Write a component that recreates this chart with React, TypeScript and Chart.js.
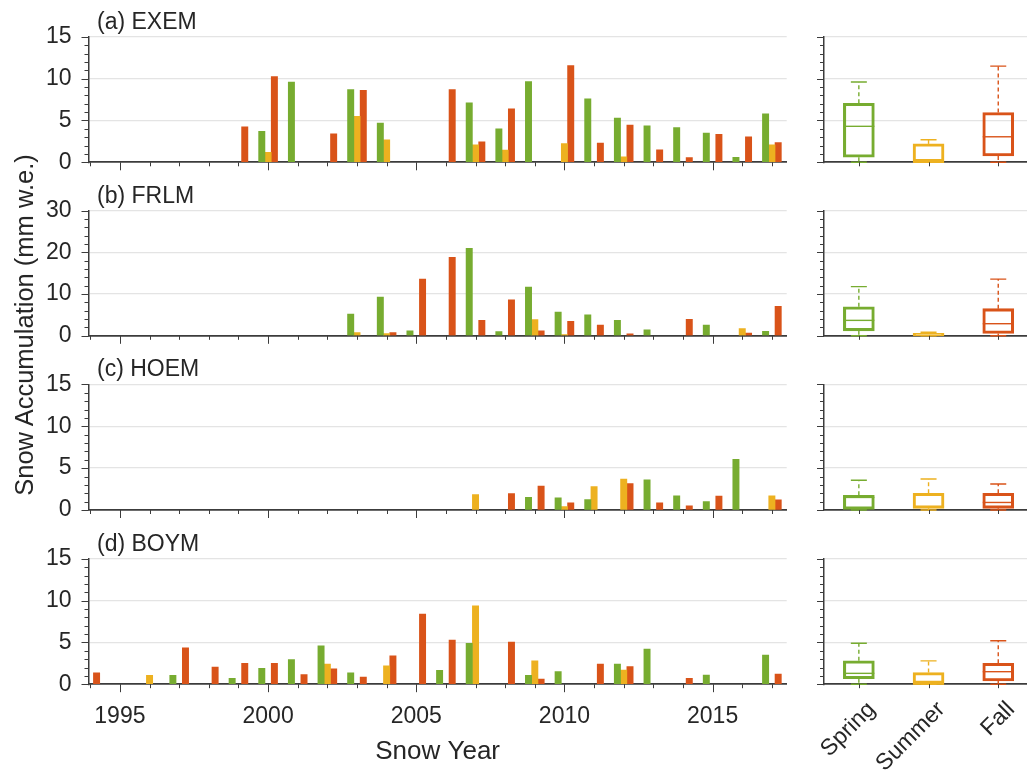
import React, { useEffect, useRef } from 'react';
import { Chart, registerables } from 'chart.js';

Chart.register(...registerables);

const FONT = '"Liberation Sans", Arial, Helvetica, sans-serif';
Chart.defaults.font.family = FONT;

// ---------------- data ----------------
const YEARS = [1994, 1995, 1996, 1997, 1998, 1999, 2000, 2001, 2002, 2003, 2004, 2005,
  2006, 2007, 2008, 2009, 2010, 2011, 2012, 2013, 2014, 2015, 2016, 2017];

const SEASONS = ['Spring', 'Summer', 'Fall'];
const SEASON_COLORS = ['#77AC30', '#EDB120', '#D95319'];
const X_TICK_LABELS = [1995, 2000, 2005, 2010, 2015];

// (a) EXEM
const EXEM_SPRING = [null, null, null, null, null, null, 3.7, 9.6, null, 8.7, 4.7, null, null, 7.1, 4.0, 9.65, null, 7.6, 5.3, 4.35, 4.15, 3.5, 0.6, 5.8];
const EXEM_SUMMER = [null, null, null, null, null, null, 1.2, null, null, 5.5, 2.7, null, null, 2.1, 1.45, null, 2.25, null, 0.65, null, null, null, null, 2.1];
const EXEM_FALL = [null, null, null, null, null, 4.25, 10.25, null, 3.4, 8.6, null, null, 8.7, 2.45, 6.4, null, 11.55, 2.3, 4.45, 1.5, 0.55, 3.35, 3.05, 2.35];
// (b) FRLM
const FRLM_SPRING = [null, null, null, null, null, null, null, null, null, 5.2, 9.3, 1.2, null, 21.0, 1.0, 11.7, 5.7, 5.0, 3.7, 1.45, null, 2.6, null, 1.05];
const FRLM_SUMMER = [null, null, null, null, null, null, null, null, null, 0.8, 0.55, null, null, null, null, 3.9, 0.3, null, null, null, null, null, 1.75, null];
const FRLM_FALL = [null, null, null, null, null, null, null, null, null, null, 0.75, 13.6, 18.8, 3.7, 8.65, 1.2, 3.45, 2.6, 0.5, null, 3.95, null, 0.65, 7.05];
// (c) HOEM
const HOEM_SPRING = [null, null, null, null, null, null, null, null, null, null, null, null, null, null, null, 1.5, 1.45, 1.25, null, 3.6, 1.7, 1.0, 6.05, null];
const HOEM_SUMMER = [null, null, null, null, null, null, null, null, null, null, null, null, null, 1.85, null, null, 0.4, 2.8, 3.7, null, null, null, null, 1.7];
const HOEM_FALL = [null, null, null, null, null, null, null, null, null, null, null, null, null, null, 1.95, 2.85, 0.85, null, 3.15, 0.85, 0.5, 1.65, null, 1.2];
// (d) BOYM
const BOYM_SPRING = [null, null, null, 1.05, null, 0.7, 1.9, 2.95, 4.6, 1.35, null, null, 1.65, 4.9, null, 1.05, 1.5, null, 2.4, 4.2, null, 1.1, null, 3.5];
const BOYM_SUMMER = [null, null, 1.05, null, null, null, null, null, 2.4, null, 2.2, null, null, 9.4, null, 2.8, null, null, 1.7, null, null, null, null, null];
const BOYM_FALL = [1.35, null, null, 4.35, 2.05, 2.5, 2.5, 1.15, 1.85, 0.85, 3.4, 8.4, 5.3, null, 5.05, 0.6, null, 2.4, 2.1, null, 0.7, null, null, 1.2];

// box statistics per season: [min, q1, median, q3, max]
const EXEM_BOX = [[0, 0.6, 4.3, 7.05, 9.6], [0, 0, 0, 2.2, 2.7], [0, 0.75, 3.05, 5.95, 11.5]];
const FRLM_BOX = [[0, 1.2, 3.7, 6.95, 11.8], [0, 0, 0.1, 0.6, 0.85], [0, 0.55, 2.9, 6.5, 13.6]];
const HOEM_BOX = [[0, 0, 1.5, 1.75, 3.55], [0, 0.2, 0.4, 2.0, 3.7], [0, 0.2, 0.9, 2.0, 3.1]];
const BOYM_BOX = [[0, 0.65, 1.3, 2.8, 4.9], [0, 0, 0, 1.4, 2.8], [0, 0.4, 1.5, 2.5, 5.2]];

// ---------------- styling / layout ----------------
const TEXT = '#262626';
const AXIS = '#3c3c3c';
const GRID = '#e4e4e4';
const TICK_FONT = 23;

const LEFT_CANVAS_W = 800;
const LEFT_AREA_L = 88.5;
const LEFT_AREA_R = 786.7;
const BOX_CANVAS_L = 794;
const BOX_CANVAS_W = 260;
const BOX_AREA_L = 824;
const BOX_AREA_R = 1033.1;

const ROWS = [
  { top: 36.8, bottom: 162.3 },
  { top: 210.7, bottom: 335.8 },
  { top: 384.4, bottom: 510.0 },
  { top: 559.0, bottom: 684.2 },
];

const PANELS = [
  { title: '(a) EXEM', spring: EXEM_SPRING, summer: EXEM_SUMMER, fall: EXEM_FALL, box: EXEM_BOX, yMax: 15, yStep: 1, yMajor: 5 },
  { title: '(b) FRLM', spring: FRLM_SPRING, summer: FRLM_SUMMER, fall: FRLM_FALL, box: FRLM_BOX, yMax: 30, yStep: 2, yMajor: 10 },
  { title: '(c) HOEM', spring: HOEM_SPRING, summer: HOEM_SUMMER, fall: HOEM_FALL, box: HOEM_BOX, yMax: 15, yStep: 1, yMajor: 5 },
  { title: '(d) BOYM', spring: BOYM_SPRING, summer: BOYM_SUMMER, fall: BOYM_FALL, box: BOYM_BOX, yMax: 15, yStep: 1, yMajor: 5 },
];

function rowGeometry(i: number) {
  const r = ROWS[i];
  const last = i === ROWS.length - 1;
  const canvasTop = Math.round(r.top) - 37;
  const canvasH = last ? 776 - canvasTop : 200;
  const xAxisH = last ? canvasTop + canvasH - r.bottom : 16;
  const padTop = r.top - canvasTop;
  const padBottom = canvasTop + canvasH - r.bottom - xAxisH;
  return { canvasTop, canvasH, xAxisH, padTop, padBottom, last };
}

// ---------------- plugins ----------------
const tickMarks = {
  id: 'tickMarks',
  afterDraw(chart: any, _args: any, opts: any) {
    const { ctx, chartArea: area } = chart;
    const xs = chart.scales.x;
    const ys = chart.scales.y;
    ctx.save();
    ctx.strokeStyle = AXIS;
    ctx.lineWidth = 1;
    ctx.beginPath();
    xs.ticks.forEach((t: any, i: number) => {
      const px = xs.getPixelForTick(i);
      if (px < area.left - 0.5 || px > area.right + 0.5) return;
      const major = opts.xMajor ? t.value % opts.xMajor === 0 : false;
      const len = major ? 8 : 4;
      ctx.moveTo(Math.round(px) + 0.5, area.bottom);
      ctx.lineTo(Math.round(px) + 0.5, area.bottom + len);
    });
    ys.ticks.forEach((t: any, i: number) => {
      const py = ys.getPixelForTick(i);
      const major = t.value % opts.yMajor === 0;
      const len = major ? 7 : 4;
      ctx.moveTo(area.left, Math.round(py) + 0.5);
      ctx.lineTo(area.left - len, Math.round(py) + 0.5);
    });
    ctx.stroke();
    ctx.restore();
  },
};

const panelTitle = {
  id: 'panelTitle',
  afterDraw(chart: any, _args: any, opts: any) {
    if (!opts || !opts.text) return;
    const { ctx, chartArea: area } = chart;
    ctx.save();
    ctx.font = `${opts.size}px ${FONT}`;
    ctx.fillStyle = TEXT;
    ctx.textAlign = 'left';
    ctx.textBaseline = 'alphabetic';
    ctx.fillText(opts.text, area.left + 8.5, area.top - 8);
    ctx.restore();
  },
};

const boxWhiskers = {
  id: 'boxWhiskers',
  afterDatasetsDraw(chart: any, _args: any, opts: any) {
    const { ctx } = chart;
    const xs = chart.scales.x;
    const ys = chart.scales.y;
    (opts.stats || []).forEach((s: number[], i: number) => {
      const [mn, q1, md, q3, mx] = s;
      const cx = xs.getPixelForValue(i);
      const half = opts.half;
      const cap = opts.cap;
      ctx.save();
      ctx.strokeStyle = opts.colors[i];
      ctx.lineWidth = 1.4;
      ctx.beginPath();
      ctx.moveTo(cx - half, ys.getPixelForValue(md));
      ctx.lineTo(cx + half, ys.getPixelForValue(md));
      ctx.stroke();
      ctx.setLineDash([4, 3]);
      ctx.beginPath();
      ctx.moveTo(cx, ys.getPixelForValue(q3));
      ctx.lineTo(cx, ys.getPixelForValue(mx));
      ctx.moveTo(cx, ys.getPixelForValue(q1));
      ctx.lineTo(cx, ys.getPixelForValue(mn));
      ctx.stroke();
      ctx.setLineDash([]);
      ctx.beginPath();
      ctx.moveTo(cx - cap, ys.getPixelForValue(mx));
      ctx.lineTo(cx + cap, ys.getPixelForValue(mx));
      ctx.moveTo(cx - cap, ys.getPixelForValue(mn));
      ctx.lineTo(cx + cap, ys.getPixelForValue(mn));
      ctx.stroke();
      ctx.restore();
    });
  },
};

function yScale(p: any, showLabels: boolean, width: number) {
  return {
    type: 'linear',
    position: 'left',
    min: 0,
    max: p.yMax,
    ticks: {
      display: showLabels,
      stepSize: p.yStep,
      autoSkip: false,
      padding: 17,
      color: TEXT,
      font: { size: TICK_FONT },
      callback: (v: any) => (Number(v) % p.yMajor === 0 ? String(v) : ''),
    },
    grid: {
      drawTicks: false,
      lineWidth: 1.3,
      color: (c: any) =>
        c.tick && c.tick.value % p.yMajor === 0 && c.tick.value !== 0 ? GRID : 'rgba(0,0,0,0)',
    },
    border: { display: true, color: AXIS, width: 1.5 },
    afterFit: (s: any) => {
      s.width = width;
    },
  };
}

// ---------------- components ----------------
function BarPanel({ index }: { index: number }) {
  const ref = useRef<HTMLCanvasElement | null>(null);
  const p = PANELS[index];
  const g = rowGeometry(index);
  useEffect(() => {
    if (!ref.current) return;
    const series = [p.spring, p.summer, p.fall];
    const chart = new Chart(ref.current, {
      type: 'bar',
      data: {
        datasets: series.map((vals, k) => ({
          label: SEASONS[k],
          data: YEARS.map((yr, i) => ({ x: yr, y: vals[i] })),
          backgroundColor: SEASON_COLORS[k],
          borderWidth: 0,
          barThickness: 6.3,
        })),
      },
      options: {
        responsive: false,
        animation: false,
        events: [],
        layout: {
          padding: { left: 0, right: LEFT_CANVAS_W - LEFT_AREA_R, top: g.padTop, bottom: g.padBottom },
        },
        plugins: {
          legend: { display: false },
          tooltip: { enabled: false },
          title: { display: false },
          tickMarks: { xMajor: 5, yMajor: p.yMajor },
          panelTitle: { text: p.title, size: 23 },
        } as any,
        scales: {
          x: {
            type: 'linear',
            bounds: 'data',
            min: 1993.94,
            max: 2017.5,
            offset: false,
            afterBuildTicks: (s: any) => {
              s.ticks = YEARS.map((v) => ({ value: v }));
            },
            ticks: {
              display: g.last,
              autoSkip: false,
              minRotation: 0,
              maxRotation: 0,
              padding: 19,
              color: TEXT,
              font: { size: TICK_FONT },
              callback: (v: any) => (X_TICK_LABELS.includes(Number(v)) ? String(v) : ''),
            },
            grid: { display: false, drawTicks: false },
            border: { display: true, color: AXIS, width: 1.8 },
            title: {
              display: g.last,
              text: 'Snow Year',
              color: TEXT,
              font: { size: 26 },
              padding: { top: 0, bottom: 9 },
            },
            afterFit: (s: any) => {
              s.height = g.xAxisH;
            },
          },
          y: yScale(p, true, LEFT_AREA_L),
        } as any,
      },
      plugins: [tickMarks, panelTitle],
    } as any);
    return () => chart.destroy();
  }, []);
  return (
    <canvas
      ref={ref}
      width={LEFT_CANVAS_W}
      height={g.canvasH}
      style={{ position: 'absolute', left: 0, top: g.canvasTop, width: LEFT_CANVAS_W, height: g.canvasH }}
    />
  );
}

function BoxPanel({ index }: { index: number }) {
  const ref = useRef<HTMLCanvasElement | null>(null);
  const p = PANELS[index];
  const g = rowGeometry(index);
  useEffect(() => {
    if (!ref.current) return;
    const chart = new Chart(ref.current, {
      type: 'bar',
      data: {
        labels: SEASONS,
        datasets: [
          {
            data: p.box.map((b) => [b[1], b[3]]),
            borderColor: SEASON_COLORS,
            backgroundColor: 'rgba(255,255,255,0)',
            borderWidth: 2.4,
            borderSkipped: false,
            barThickness: 31,
          },
        ],
      },
      options: {
        responsive: false,
        animation: false,
        events: [],
        layout: {
          padding: {
            left: 0,
            right: BOX_CANVAS_L + BOX_CANVAS_W - BOX_AREA_R,
            top: g.padTop,
            bottom: g.padBottom,
          },
        },
        plugins: {
          legend: { display: false },
          tooltip: { enabled: false },
          title: { display: false },
          tickMarks: { xMajor: 0, yMajor: p.yMajor },
          boxWhiskers: { stats: p.box, colors: SEASON_COLORS, half: 15.5, cap: 8 },
        } as any,
        scales: {
          x: {
            type: 'category',
            offset: true,
            ticks: {
              display: g.last,
              autoSkip: false,
              minRotation: 45,
              maxRotation: 45,
              padding: 12,
              labelOffset: 13,
              color: TEXT,
              font: { size: TICK_FONT },
            },
            grid: { display: false, drawTicks: false },
            border: { display: true, color: AXIS, width: 1.8 },
            afterFit: (s: any) => {
              s.height = g.xAxisH;
            },
          },
          y: yScale(p, false, BOX_AREA_L - BOX_CANVAS_L),
        } as any,
      },
      plugins: [tickMarks, boxWhiskers],
    } as any);
    return () => chart.destroy();
  }, []);
  return (
    <canvas
      ref={ref}
      width={BOX_CANVAS_W}
      height={g.canvasH}
      style={{ position: 'absolute', left: BOX_CANVAS_L, top: g.canvasTop, width: BOX_CANVAS_W, height: g.canvasH }}
    />
  );
}

export default function App() {
  return (
    <div
      style={{
        position: 'absolute',
        left: 0,
        top: 0,
        width: 1027,
        height: 776,
        overflow: 'hidden',
        background: '#ffffff',
      }}
    >
      {PANELS.map((_, i) => (
        <BarPanel key={'bar' + i} index={i} />
      ))}
      {PANELS.map((_, i) => (
        <BoxPanel key={'box' + i} index={i} />
      ))}
      <div
        style={{
          position: 'absolute',
          left: 24 - 250,
          top: 325 - 15,
          width: 500,
          height: 30,
          lineHeight: '30px',
          textAlign: 'center',
          transform: 'rotate(-90deg)',
          fontFamily: FONT,
          fontSize: 25.5,
          color: TEXT,
          whiteSpace: 'nowrap',
        }}
      >
        Snow Accumulation (mm w.e.)
      </div>
    </div>
  );
}
